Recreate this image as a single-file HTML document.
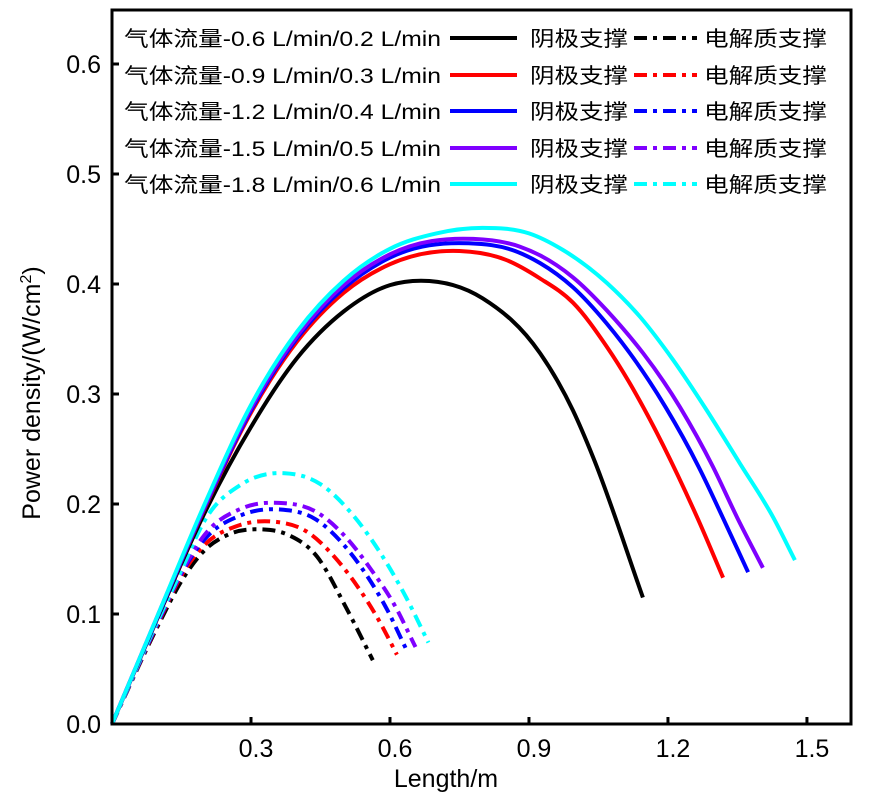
<!DOCTYPE html>
<html><head><meta charset="utf-8">
<style>
html,body{margin:0;padding:0;background:#fff;}
svg{display:block;}
text{font-family:"Liberation Sans","Noto Sans CJK SC",sans-serif;fill:#000;}
</style></head>
<body>
<svg id="chart" width="874" height="801" viewBox="0 0 874 801" xmlns="http://www.w3.org/2000/svg">
<g id="series"></g>
<g id="axes"></g>
<g id="legend"></g>
</svg>
<script>
const xTicks = [0.3, 0.6, 0.9, 1.2, 1.5];
const xTickLabels = ["0.3", "0.6", "0.9", "1.2", "1.5"];
const yTicks = [0.0, 0.1, 0.2, 0.3, 0.4, 0.5, 0.6];
const yTickLabels = ["0.0", "0.1", "0.2", "0.3", "0.4", "0.5", "0.6"];
const colors = ["#000000", "#ff0000", "#0000ff", "#7f00ff", "#00ffff"];
const flowLabels = ["气体流量-0.6 L/min/0.2 L/min","气体流量-0.9 L/min/0.3 L/min","气体流量-1.2 L/min/0.4 L/min","气体流量-1.5 L/min/0.5 L/min","气体流量-1.8 L/min/0.6 L/min"];

const cathodeX0 = [0,0.1,0.2,0.3,0.4,0.5,0.6,0.667,0.8,0.924,0.995,1.038,1.146];
const cathodeY0 = [0,0.098,0.192,0.27,0.333,0.375,0.399,0.403,0.387,0.337,0.285,0.243,0.115];
const cathodeX1 = [0,0.1,0.2,0.3,0.4,0.5,0.6,0.75,0.85,0.924,0.995,1.068,1.263,1.319];
const cathodeY1 = [0,0.099,0.196,0.283,0.348,0.392,0.418,0.43,0.422,0.405,0.383,0.343,0.188,0.133];
const cathodeX2 = [0,0.1,0.2,0.3,0.4,0.5,0.6,0.77,0.87,0.924,0.995,1.068,1.195,1.266,1.318,1.373];
const cathodeY2 = [0,0.099,0.197,0.285,0.351,0.396,0.424,0.437,0.43,0.419,0.397,0.364,0.288,0.234,0.188,0.138];
const cathodeX3 = [0,0.1,0.2,0.3,0.4,0.5,0.6,0.78,0.88,0.924,0.995,1.068,1.226,1.297,1.349,1.405];
const cathodeY3 = [0,0.1,0.198,0.287,0.353,0.399,0.427,0.441,0.434,0.426,0.406,0.376,0.288,0.234,0.188,0.142];
const cathodeX4 = [0,0.1,0.2,0.3,0.4,0.5,0.6,0.7,0.8,0.9,0.973,1.068,1.14,1.211,1.284,1.355,1.427,1.474];
const cathodeY4 = [0,0.1,0.2,0.29,0.357,0.403,0.432,0.446,0.451,0.446,0.431,0.401,0.37,0.331,0.285,0.237,0.188,0.149];

const elecX0 = [0,0.1,0.15,0.2,0.25,0.32,0.38,0.443,0.505,0.563];
const elecY0 = [0,0.09,0.13,0.158,0.172,0.177,0.172,0.152,0.106,0.058];
const elecX1 = [0,0.1,0.15,0.2,0.27,0.347,0.42,0.48,0.53,0.575,0.615];
const elecY1 = [0,0.092,0.135,0.163,0.18,0.184,0.175,0.152,0.125,0.095,0.063];
const elecX2 = [0,0.1,0.15,0.2,0.28,0.363,0.44,0.5,0.55,0.595,0.635];
const elecY2 = [0,0.093,0.137,0.168,0.19,0.195,0.186,0.163,0.135,0.103,0.068];
const elecX3 = [0,0.1,0.15,0.2,0.28,0.36,0.44,0.5,0.56,0.61,0.655];
const elecY3 = [0,0.094,0.138,0.172,0.196,0.201,0.193,0.172,0.14,0.108,0.07];
const elecX4 = [0,0.1,0.15,0.2,0.28,0.373,0.45,0.52,0.58,0.635,0.683];
const elecY4 = [0,0.095,0.14,0.185,0.218,0.228,0.218,0.19,0.155,0.115,0.074];

const cathodeXs=[cathodeX0,cathodeX1,cathodeX2,cathodeX3,cathodeX4];
const cathodeYs=[cathodeY0,cathodeY1,cathodeY2,cathodeY3,cathodeY4];
const elecXs=[elecX0,elecX1,elecX2,elecX3,elecX4];
const elecYs=[elecY0,elecY1,elecY2,elecY3,elecY4];

const L=112,R=851,T=10,B=724;
function sx(v){return L+v*463.3;}
function sy(v){return B-v*1100;}
const NS="http://www.w3.org/2000/svg";
function mk(tag,attrs,parent){const e=document.createElementNS(NS,tag);for(const k in attrs)e.setAttribute(k,attrs[k]);parent.appendChild(e);return e;}

function pathFrom(xs,ys){
  const p=xs.map((x,i)=>[sx(x),sy(ys[i])]);
  const n=p.length;
  const sec=[];
  for(let i=0;i<n-1;i++)sec.push((p[i+1][1]-p[i][1])/(p[i+1][0]-p[i][0]));
  const m=[];
  for(let i=0;i<n;i++){
    if(i===0)m.push(sec[0]);
    else if(i===n-1)m.push(sec[n-2]);
    else{
      const h0=p[i][0]-p[i-1][0],h1=p[i+1][0]-p[i][0];
      m.push((sec[i-1]*h1+sec[i]*h0)/(h0+h1));
    }
  }
  let d="M"+p[0][0].toFixed(1)+","+p[0][1].toFixed(1);
  for(let i=0;i<n-1;i++){
    const h=(p[i+1][0]-p[i][0])/3;
    d+=" C"+(p[i][0]+h).toFixed(1)+","+(p[i][1]+m[i]*h).toFixed(1)+" "+(p[i+1][0]-h).toFixed(1)+","+(p[i+1][1]-m[i+1]*h).toFixed(1)+" "+p[i+1][0].toFixed(1)+","+p[i+1][1].toFixed(1);
  }
  return d;
}

const sg=document.getElementById('series');
for(let i=0;i<5;i++){
  const e=mk('path',{d:pathFrom(elecXs[i],elecYs[i]),fill:'none',stroke:colors[i],'stroke-width':4,'stroke-dasharray':'13 6 4 6'},sg);
  
  
}
for(let i=0;i<5;i++){
  const e=mk('path',{d:pathFrom(cathodeXs[i],cathodeYs[i]),fill:'none',stroke:colors[i],'stroke-width':4},sg);
  
  
}

const ag=document.getElementById('axes');
const frame=mk('rect',{x:L,y:T,width:R-L,height:B-T,fill:'none',stroke:'#000','stroke-width':3},ag);


xTicks.forEach((v,i)=>{
  const t=mk('line',{x1:sx(v),x2:sx(v),y1:B,y2:B-7,stroke:'#000','stroke-width':3},ag);
  
  
  const lb=mk('text',{x:sx(v)+5,y:B+33,'font-size':25,'text-anchor':'middle'},ag);
  lb.textContent=xTickLabels[i];
  
  
});
yTicks.forEach((v,i)=>{
  const t=mk('line',{x1:L,x2:L+7,y1:sy(v),y2:sy(v),stroke:'#000','stroke-width':3},ag);
  
  
  const lb=mk('text',{x:101,y:sy(v)+9,'font-size':25,'text-anchor':'end'},ag);
  lb.textContent=yTickLabels[i];
  
  
});
const xt=mk('text',{x:446,y:787,'font-size':25,'text-anchor':'middle'},ag);
xt.textContent="Length/m";


const yt=mk('text',{x:0,y:0,'font-size':25,'text-anchor':'middle',transform:'translate(40,393) rotate(-90)'},ag);
yt.innerHTML='Power density/(W/cm<tspan dy="-9" font-size="16">2</tspan><tspan dy="9">)</tspan>';



const lg=document.getElementById('legend');
const rowY=[38,75,111,148,184];
for(let i=0;i<5;i++){
  const y=rowY[i];
  const t=mk('text',{x:124,y:y+8,'font-size':21,textLength:317,lengthAdjust:'spacingAndGlyphs'},lg);
  t.textContent=flowLabels[i];
  
  
  const s=mk('line',{x1:450,x2:517,y1:y,y2:y,stroke:colors[i],'stroke-width':4},lg);
  
  
  const t2=mk('text',{x:530,y:y+8,'font-size':21,textLength:98,lengthAdjust:'spacingAndGlyphs'},lg);
  t2.textContent="阴极支撑";
  
  
  const d=mk('line',{x1:634,x2:697,y1:y,y2:y,stroke:colors[i],'stroke-width':4,'stroke-dasharray':'13 6 4 6'},lg);
  
  
  const t3=mk('text',{x:704,y:y+8,'font-size':21,textLength:123,lengthAdjust:'spacingAndGlyphs'},lg);
  t3.textContent="电解质支撑";
  
  
}
</script>
</body></html>
